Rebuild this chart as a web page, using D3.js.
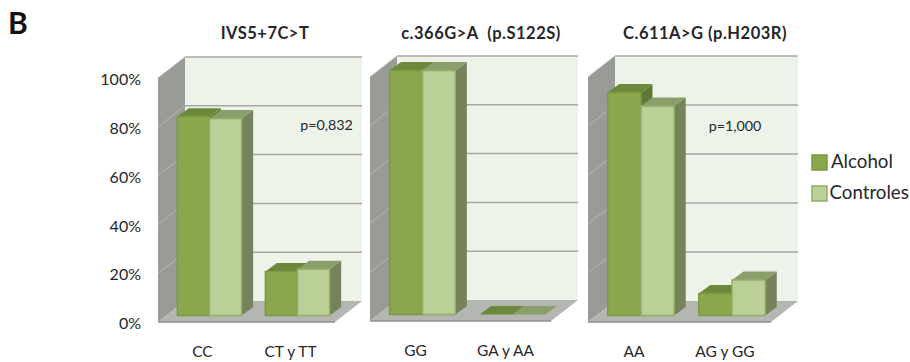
<!DOCTYPE html>
<html>
<head>
<meta charset="utf-8">
<script src="https://cdn.jsdelivr.net/npm/d3@7"></script>
<style>
  html, body { margin: 0; padding: 0; background: #fff; }
  svg { display: block; }
  text { font-family: Lato, "Open Sans", sans-serif; fill: #26262b; }
</style>
</head>
<body>
<div id="chart"></div>
<script>
// Values
const titles = ["IVS5+7C>T", "c.366G>A  (p.S122S)", "C.611A>G (p.H203R)"];
const categories = [["CC", "CT y TT"], ["GG", "GA y AA"], ["AA", "AG y GG"]];
const alcohol = [[81.5, 18], [100, 0], [91, 9]];
const controles = [[80.7, 19], [100, 0], [85.5, 14.5]];
const pValues = ["p=0,832", "", "p=1,000"];
const seriesNames = ["Alcohol", "Controles"];
const yTicks = [0, 20, 40, 60, 80, 100];

// Layout
const width = 910, height = 362;
const panelLeft = [158, 370, 588];
const panelWidth = [177, 181, 183];
const panelFloor = [322, 321, 322];
const panelTop = [78, 77, 77];
const pos = { title: [265, 481, 705], pX: [326.5, 0, 735], pY: [126, 0, 127] };
const wall = { dx: 27, dy: 21 };   // depth of the chart box
const bar = { dx: 11.5, dy: 8.5 }; // depth of one bar
const inset = { dx: 7, dy: 6.5 };  // front face of bars, from front edge of the floor

const colors = {
  back: "#eef3e9", backEdge: "#a3a5a1", grid: "#a6a8a3",
  side: "#999b96", sideEdge: "#b5b7b2", floor: "#b4b6b1", floorEdge: "#8f918c",
  fill: ["#8aa74d", "#bad097"],
  edge: ["#7d9a42", "#93ad68"],
  top: ["#6c883a", "#8a9e6c"],
  right: ["#5f7a34", "#75825c"]
};

const svg = d3.select("#chart")
  .append("svg")
    .attr("width", width)
    .attr("height", height)
    .attr("viewBox", [0, 0, width, height]);

const poly = pts => pts.map(p => p.join(",")).join(" ");

// The B of the figure
svg.append("text")
  .text("B")
  .attr("x", 8)
  .attr("y", 34)
  .style("font-size", "30px")
  .style("font-weight", 700)
  .style("fill", "#111");

titles.forEach((title, i) => {
  const x0 = panelLeft[i], x1 = x0 + panelWidth[i];

  const yScale = d3.scaleLinear()
    .domain([0, 100])
    .range([panelFloor[i], panelTop[i]]);

  const xScale = d3.scaleBand()
    .domain(categories[i])
    .range([x0, x1])
    .paddingInner(0.27)
    .paddingOuter(0.14);

  const xSub = d3.scaleBand()
    .domain(seriesNames)
    .range([0, xScale.bandwidth()]);

  const g = svg.append("g").attr("class", "panel");

  // Back wall
  g.append("rect")
    .attr("x", x0 + wall.dx)
    .attr("y", yScale(100) - wall.dy)
    .attr("width", panelWidth[i])
    .attr("height", yScale(0) - yScale(100))
    .attr("fill", colors.back);

  // Left wall
  g.append("polygon")
    .attr("points", poly([
      [x0, yScale(0)], [x0, yScale(100)],
      [x0 + wall.dx, yScale(100) - wall.dy], [x0 + wall.dx, yScale(0) - wall.dy]
    ]))
    .attr("fill", colors.side);

  // Grid lines, back wall and left wall
  g.selectAll(".grid-back")
    .data(yTicks.slice(1))
    .join("line")
      .attr("class", "grid-back")
      .attr("x1", x0 + wall.dx)
      .attr("x2", x1 + wall.dx)
      .attr("y1", d => yScale(d) - wall.dy)
      .attr("y2", d => yScale(d) - wall.dy)
      .attr("stroke", colors.grid)
      .attr("stroke-width", 1.5);
  g.selectAll(".grid-side")
    .data(yTicks.slice(1))
    .join("line")
      .attr("class", "grid-side")
      .attr("x1", x0)
      .attr("x2", x0 + wall.dx)
      .attr("y1", d => yScale(d))
      .attr("y2", d => yScale(d) - wall.dy)
      .attr("stroke", colors.sideEdge)
      .attr("stroke-width", 1);

  // Floor
  g.append("polygon")
    .attr("points", poly([
      [x0, yScale(0)], [x1, yScale(0)],
      [x1 + wall.dx, yScale(0) - wall.dy], [x0 + wall.dx, yScale(0) - wall.dy]
    ]))
    .attr("fill", colors.floor);
  g.append("line")
    .attr("x1", x0)
    .attr("x2", x1)
    .attr("y1", yScale(0))
    .attr("y2", yScale(0))
    .attr("stroke", colors.floorEdge)
    .attr("stroke-width", 1.5);

  // Bars
  const rows = categories[i].flatMap((c, j) => [
    { cat: c, s: 0, value: alcohol[i][j] },
    { cat: c, s: 1, value: controles[i][j] }
  ]);
  const bars = g.selectAll(".bar")
    .data(rows)
    .join("g")
      .attr("class", "bar")
      .attr("transform", d => `translate(${xScale(d.cat) + xSub(seriesNames[d.s]) + inset.dx}, ${-inset.dy})`);
  const w = xSub.bandwidth();

  bars.append("polygon") // right side
    .attr("points", d => poly([
      [w, yScale(d.value)], [w + bar.dx, yScale(d.value) - bar.dy],
      [w + bar.dx, yScale(0) - bar.dy], [w, yScale(0)]
    ]))
    .attr("fill", d => colors.right[d.s]);
  bars.append("polygon") // top
    .attr("points", d => poly([
      [0, yScale(d.value)], [w, yScale(d.value)],
      [w + bar.dx, yScale(d.value) - bar.dy], [bar.dx, yScale(d.value) - bar.dy]
    ]))
    .attr("fill", d => colors.top[d.s]);
  bars.filter(d => d.value > 0)
    .append("rect") // front
      .attr("x", 0)
      .attr("y", d => yScale(d.value))
      .attr("width", w)
      .attr("height", d => yScale(0) - yScale(d.value))
      .attr("fill", d => colors.fill[d.s])
      .attr("stroke", d => colors.edge[d.s])
      .attr("stroke-width", 1.5);

  // Axes
  if (i === 0) {
    const leftAxis = d3.axisLeft(yScale)
      .tickValues(yTicks)
      .tickFormat(d => d + "%")
      .tickSize(0)
      .tickPadding(17);
    g.append("g")
      .attr("transform", `translate(${x0}, 1.5)`)
      .call(leftAxis)
      .call(a => a.select(".domain").remove())
      .selectAll("text")
        .style("font-size", "16px")
        .style("font-family", "Lato, sans-serif");
  }
  const bottomAxis = d3.axisBottom(xScale)
    .tickSize(0)
    .tickPadding(24);
  g.append("g")
    .attr("transform", `translate(0, ${yScale(0)})`)
    .call(bottomAxis)
    .call(a => a.select(".domain").remove())
    .selectAll("text")
      .style("font-size", "15.5px")
      .style("font-family", "Lato, sans-serif");

  // Titles and p values
  g.append("text")
    .text(title)
    .attr("x", pos.title[i])
    .attr("y", 39)
    .attr("text-anchor", "middle")
    .attr("xml:space", "preserve")
    .style("white-space", "pre")
    .style("font-size", "16.5px")
    .style("letter-spacing", "0.5px")
    .style("font-weight", 700);
  if (pValues[i]) {
    g.append("text")
      .text(pValues[i])
      .attr("x", pos.pX[i])
      .attr("y", pos.pY[i])
      .attr("text-anchor", "middle")
      .attr("dominant-baseline", "middle")
      .style("font-size", "14.3px");
  }
});

// Legend
const legend = svg.append("g")
  .attr("class", "legend")
  .selectAll("g")
  .data(seriesNames)
  .join("g")
    .attr("transform", (d, i) => `translate(812, ${155 + i * 31})`);
legend.append("rect")
  .attr("width", 15)
  .attr("height", 15)
  .attr("fill", (d, i) => colors.fill[i])
  .attr("stroke", (d, i) => colors.edge[i])
  .attr("stroke-width", 1.5);
legend.append("text")
  .text(d => d)
  .attr("x", (d, i) => i ? 17.5 : 19)
  .attr("y", 8)
  .attr("dominant-baseline", "middle")
  .style("font-size", "18.7px");
</script>
</body>
</html>
